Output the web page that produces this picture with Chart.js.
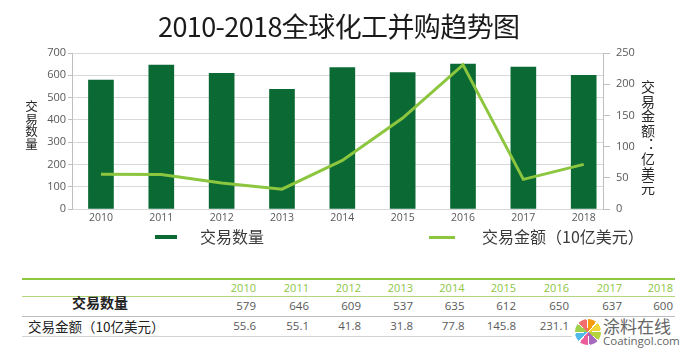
<!DOCTYPE html>
<html><head><meta charset="utf-8">
<script src="https://cdn.jsdelivr.net/npm/chart.js@4.4.1/dist/chart.umd.min.js"></script>
<style>
html,body{margin:0;padding:0;background:#fff;}
#wrap{position:relative;width:685px;height:359px;overflow:hidden;font-family:"Noto Sans CJK SC",sans-serif;background:#fff;}
.abs{position:absolute;white-space:nowrap;}
#chart{position:absolute;left:0;top:0;}
#title{left:158px;top:7px;font-size:27px;line-height:38px;letter-spacing:-0.6px;color:#1a1a1a;}
.vt{writing-mode:vertical-rl;color:#262626;}
.num{font-family:"Open Sans",sans-serif;text-align:right;width:60px;line-height:14px;}
.line{position:absolute;left:22px;width:653px;}
</style></head>
<body>
<div id="wrap">
  <canvas id="chart" width="685" height="232"></canvas>
  <div id="title" class="abs">2010-2018全球化工并购趋势图</div>
  <div id="ytitleL" class="abs vt" style="left:25px;top:100px;font-size:12.5px;line-height:13px;">交易数量</div>
  <div id="ytitleR" class="abs vt" style="left:641px;top:80px;font-size:14px;line-height:14px;letter-spacing:0.4px;">交易金额：亿美元</div>
  <div id="legend"></div>
  <div id="table"></div>
</div>
<script>
// ---- data ----
const years = [2010, 2011, 2012, 2013, 2014, 2015, 2016, 2017, 2018];
const dealCounts = [579, 646, 609, 537, 635, 612, 650, 637, 600];
const dealAmounts = [55.6, 55.1, 41.8, 31.8, 77.8, 145.8, 231.1, 47.5, 71.5];
const tableAmounts = ['55.6', '55.1', '41.8', '31.8', '77.8', '145.8', '231.1', null, null];
const countLabel = '交易数量';
const amountLabel = '交易金额（10亿美元）';
const countAxisMax = 700, countAxisStep = 100;
const amountAxisMax = 250, amountAxisStep = 50;

const barColor = '#0b6a34';
const lineColor = '#8cc63f';
const tickFont = {family: 'Open Sans', size: 11};
const xMin = 2009.52, xMax = 2018.32;

new Chart(document.getElementById('chart').getContext('2d'), {
  type: 'bar',
  data: {
    datasets: [
      {type: 'line', label: amountLabel, data: years.map((y, i) => ({x: y, y: dealAmounts[i]})),
       yAxisID: 'y1', borderColor: lineColor, borderWidth: 3, pointRadius: 0, tension: 0, fill: false, order: 0},
      {type: 'bar', label: countLabel, data: years.map((y, i) => ({x: y, y: dealCounts[i]})),
       yAxisID: 'y', backgroundColor: barColor, barThickness: 25, order: 1}
    ]
  },
  options: {
    responsive: false, animation: false, devicePixelRatio: 1,
    layout: {padding: {top: 53, left: 0, right: 0, bottom: 0}},
    plugins: {legend: {display: false}, tooltip: {enabled: false}},
    scales: {
      x: {type: 'linear', bounds: 'data', offset: false, min: xMin, max: xMax,
          afterBuildTicks: s => { s.ticks = years.map(v => ({value: v})); },
          ticks: {autoSkip: false, maxRotation: 0, padding: 3,
                  color: '#595959', font: {family: 'Open Sans', size: 10.5}, callback: v => String(v)},
          grid: {display: false, drawTicks: false, offset: false}, border: {display: false},
          afterFit: s => { s.height = 23; }},
      y: {position: 'left', min: 0, max: countAxisMax,
          ticks: {stepSize: countAxisStep, padding: 2, color: '#595959', font: tickFont},
          grid: {color: '#d9d9d9', tickLength: 4, tickColor: '#bfbfbf'},
          border: {color: '#bfbfbf'},
          afterFit: s => { s.width = 72; }},
      y1: {position: 'right', min: 0, max: amountAxisMax,
          ticks: {stepSize: amountAxisStep, padding: 6, color: '#595959', font: tickFont},
          grid: {drawOnChartArea: false, tickLength: 7, tickColor: '#bfbfbf'},
          border: {color: '#bfbfbf'},
          afterFit: s => { s.width = 82; }}
    }
  }
});

// ---- legend (HTML) ----
const legend = document.getElementById('legend');
function addEl(parent, cls, style, text) {
  const d = document.createElement('div');
  d.className = cls; d.setAttribute('style', style);
  if (text != null) d.textContent = text;
  parent.appendChild(d); return d;
}
addEl(legend, 'abs', `left:155px;top:235px;width:22px;height:4px;background:${barColor};`);
addEl(legend, 'abs', 'left:200px;top:226px;font-size:16px;line-height:20px;color:#3a3a3a;', countLabel);
addEl(legend, 'abs', `left:429px;top:235.5px;width:26px;height:3px;background:${lineColor};`);
addEl(legend, 'abs', 'left:482px;top:226px;font-size:16px;line-height:20px;color:#3a3a3a;', amountLabel);

// ---- table (HTML) ----
const table = document.getElementById('table');
const colRight = [256, 309, 361, 413, 464.5, 516, 569, 622, 673];
addEl(table, 'line', 'top:277.5px;height:2px;background:#8dc63f;');
addEl(table, 'line', 'top:296px;height:1px;background:#b3d67c;');
addEl(table, 'line', 'top:316px;height:1px;background:#bdbdbd;');
addEl(table, 'line', 'top:335.5px;height:1px;background:#d3d3d3;');
years.forEach((y, i) => {
  addEl(table, 'abs num', `left:${colRight[i] - 60}px;top:281px;font-size:11px;color:#8dc63f;`, String(y));
  addEl(table, 'abs num', `left:${colRight[i] - 60}px;top:298.5px;font-size:11.5px;color:#595959;`, String(dealCounts[i]));
  if (tableAmounts[i] !== null)
    addEl(table, 'abs num', `left:${colRight[i] - 60}px;top:319.3px;font-size:11.5px;color:#595959;`, tableAmounts[i]);
});
addEl(table, 'abs', 'left:72px;top:293px;font-size:14px;line-height:18px;font-weight:bold;color:#222;', countLabel);
addEl(table, 'abs', 'left:28px;top:317px;font-size:13.5px;line-height:18px;color:#222;', amountLabel);

// watermark
addEl(table, 'abs', 'left:572px;top:318px;width:113px;height:34px;background:#fff;');
addEl(table, 'abs', 'left:575px;top:319px;width:26px;height:26px;border-radius:50%;background:conic-gradient(#f39c12 0 38deg,#fff 38deg 45deg,#f1d435 45deg 83deg,#fff 83deg 90deg,#b4d33c 90deg 128deg,#fff 128deg 135deg,#a569bd 135deg 173deg,#fff 173deg 180deg,#ec5f9b 180deg 218deg,#fff 218deg 225deg,#52b8e8 225deg 263deg,#fff 263deg 270deg,#9ed04b 270deg 308deg,#fff 308deg 315deg,#f26d6d 315deg 353deg,#fff 353deg 360deg);');
addEl(table, 'abs', 'left:603px;top:315px;font-size:17px;line-height:22px;color:#666;', '涂料在线');
addEl(table, 'abs', 'left:603px;top:333px;font-family:"Open Sans",sans-serif;font-size:11.5px;line-height:15px;color:#666;', 'Coatingol.com');
</script>
</body></html>
